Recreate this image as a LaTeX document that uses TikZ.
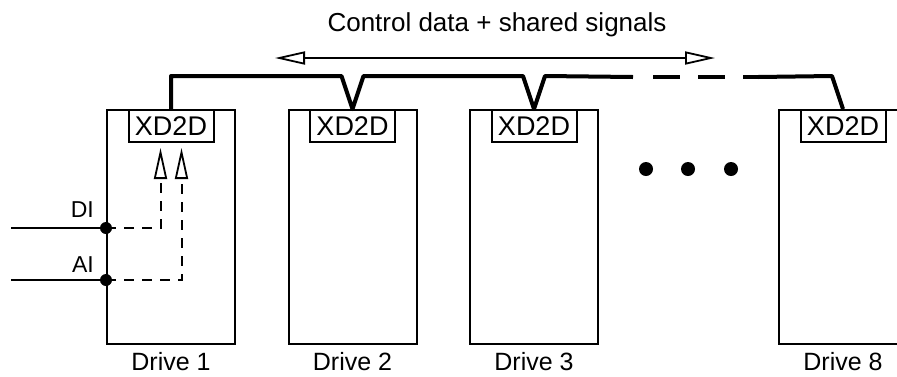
\documentclass[tikz,border=0pt]{standalone}
\usepackage{fontspec}
\setmainfont{Liberation Sans}
\usetikzlibrary{arrows.meta, positioning, calc}
\tikzstyle{drive} = [draw=black, line width=2pt, minimum width=128pt, minimum height=234pt, inner sep=0pt]
\tikzstyle{xdd} = [draw=black, line width=2pt, minimum width=85pt, minimum height=32pt, inner sep=0pt, font=\fontsize{27}{30}\selectfont]
\tikzstyle{drivelabel} = [font=\fontsize{25}{28}\selectfont, inner sep=0pt]
\tikzstyle{bus} = [line width=4pt, line join=round]
\tikzstyle{thinline} = [line width=2pt]
\tikzstyle{junction} = [circle, fill=black, inner sep=0pt, minimum size=12pt]
\tikzstyle{openarrow} = [-{Triangle[open,length=31pt,width=13pt,line width=1.8pt]}]

\begin{document}
\begin{tikzpicture}[x=1pt,y=-1pt]
\clip (0,0) rectangle (897,376);

% drives
\node[drive] (drive1) at (171,227) {};
\node[drive] (drive2) at (352.5,227) {};
\node[drive] (drive3) at (534,227) {};
\node[drive] (drive8) at (843,227) {};

\foreach \d/\n in {drive1/1, drive2/2, drive3/3, drive8/8} {
  \node[xdd, anchor=north] (xd\n) at (\d.north) {XD2D};
  \node[drivelabel, below=7pt of \d] (label\n) {Drive \n};
}

% bus between the XD2D ports
\coordinate (gapstart) at (633,77);
\coordinate (dashstart) at (653,77);
\coordinate (dashend) at (758,77);
\draw[bus] (xd1.north) -- ++(0,-33)
  -- ($(xd2.north)+(-11,-33)$) -- (xd2.north) -- ++(11,-33)
  -- ($(xd3.north)+(-11,-33)$) -- (xd3.north) -- ++(11,-33)
  -- (gapstart);
\draw[bus, line cap=butt, dash pattern=on 27pt off 18pt] (dashstart) -- (dashend);
\draw[bus] (dashend) -- ($(xd8.north)+(-11,-33)$) -- (xd8.north);

% shared signals
\coordinate (sigleft) at (275,58);
\coordinate (sigright) at (715,58);
\draw[thinline, {Triangle[open,length=30pt,width=13pt,line width=1.8pt]}-{Triangle[open,length=30pt,width=13pt,line width=1.8pt]}]
  (sigleft) -- (sigright);
\node[drivelabel, font=\fontsize{26}{29}\selectfont] (sigtext) at (497,25) {Control data + shared signals};

% inputs of drive 1
\coordinate (diin) at (11,228);
\coordinate (aiin) at (11,280);
\node[junction] (didot) at (drive1.west |- diin) {};
\node[junction] (aidot) at (drive1.west |- aiin) {};
\draw[thinline] (diin) -- (didot.center);
\draw[thinline] (aiin) -- (aidot.center);
\node[drivelabel, anchor=south east, font=\fontsize{23}{26}\selectfont] (dilabel) at ($(didot)+(-12,-10)$) {DI};
\node[drivelabel, anchor=south east, font=\fontsize{23}{26}\selectfont] (ailabel) at ($(aidot)+(-12,-7)$) {AI};
\draw[thinline, dash pattern=on 10pt off 8pt, openarrow] (didot.center) -| ($(xd1.south)+(-10.5,5)$);
\draw[thinline, dash pattern=on 10pt off 8pt, openarrow] (aidot.center) -| ($(xd1.south)+(10.5,5)$);

% more drives
\foreach \x [count=\i] in {646,688,731}
  \node[circle, fill=black, inner sep=0pt, minimum size=14pt] (more\i) at (\x,169) {};
\end{tikzpicture}
\end{document}
